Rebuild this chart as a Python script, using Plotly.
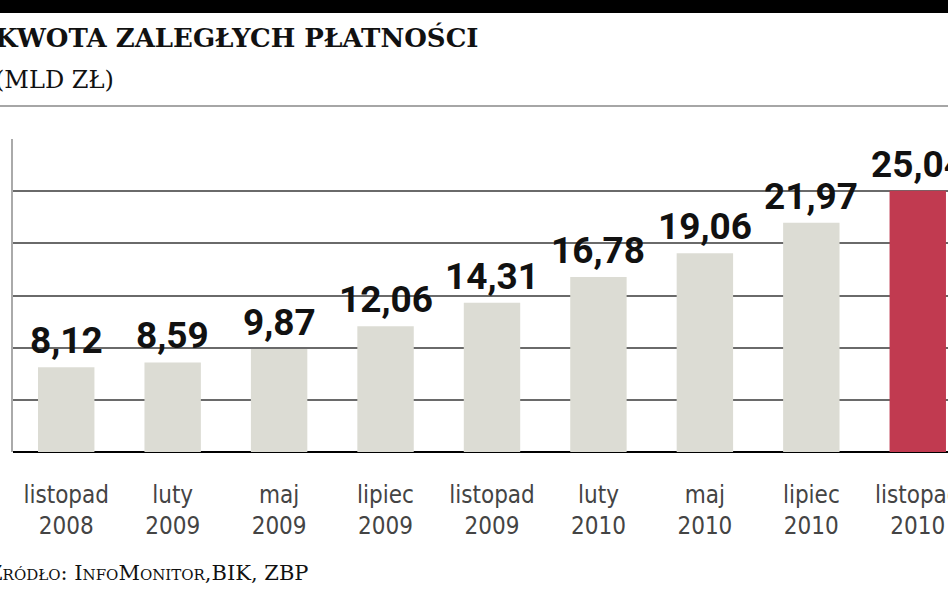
import plotly.graph_objects as go

categories = ["listopad<br>2008", "luty<br>2009", "maj<br>2009", "lipiec<br>2009",
              "listopad<br>2009", "luty<br>2010", "maj<br>2010", "lipiec<br>2010",
              "listopad<br>2010"]
values = [8.12, 8.59, 9.87, 12.06, 14.31, 16.78, 19.06, 21.97, 25.04]
labels = ["8,12", "8,59", "9,87", "12,06", "14,31", "16,78", "19,06", "21,97", "25,04"]
gray = "#dcdcd4"
red = "#c13a50"
colors = [gray] * 8 + [red]

W, H = 948, 593
ML, MR, MT, MB = 13, 0, 139, 141
ph = H - MT - MB
pw = W - ML - MR

def py(px):  # page y pixel -> paper y
    return 1 + (MT - px) / ph

def pxx(px):  # page x pixel -> paper x
    return (px - ML) / pw

fig = go.Figure()
fig.add_trace(go.Bar(x=list(range(len(values))), y=values, marker_color=colors,
                     marker_line_width=0, width=0.53, hoverinfo="skip"))

valfont = dict(family="Roboto, DejaVu Sans Condensed, sans-serif",
               size=37, color="#111", weight="bold")
for i, (v, t) in enumerate(zip(values, labels)):
    fig.add_annotation(x=i, y=v, text=t, showarrow=False, yanchor="bottom",
                       xanchor="center", yshift=3, font=valfont)

# title texts
serif = "DejaVu Serif, Liberation Serif, serif"
fig.add_annotation(xref="paper", yref="paper", x=pxx(-7), y=py(38), xanchor="left",
                   yanchor="middle", text="KWOTA ZALEGŁYCH PŁATNOŚCI", showarrow=False,
                   font=dict(family=serif, size=26, color="#111", weight="bold"))
fig.add_annotation(xref="paper", yref="paper", x=pxx(-7), y=py(80), xanchor="left",
                   yanchor="middle", text="(MLD ZŁ)", showarrow=False,
                   font=dict(family=serif, size=24, color="#111"))
fig.add_annotation(xref="paper", yref="paper", x=pxx(-14), y=py(573), xanchor="left",
                   yanchor="middle", text="Źródło: InfoMonitor,BIK, ZBP", showarrow=False,
                   font=dict(family=serif, size=21, color="#111", variant="small-caps"))

# decorative rules
fig.add_shape(type="rect", xref="paper", yref="paper", x0=pxx(-5), x1=pxx(W + 5),
              y0=py(13), y1=py(-5), fillcolor="#000", line_width=0, layer="above")
fig.add_shape(type="line", xref="paper", yref="paper", x0=pxx(0), x1=pxx(W),
              y0=py(106), y1=py(106), line=dict(color="#888", width=1.5))

fig.update_layout(
    width=W, height=H,
    margin=dict(l=ML, r=MR, t=MT, b=MB, autoexpand=False),
    paper_bgcolor="white", plot_bgcolor="white", showlegend=False,
    bargap=0.47,
)
fig.update_xaxes(range=[-0.5, 8.5 - 23 / 106.5], tickmode="array",
                 tickvals=list(range(len(values))), ticktext=categories,
                 showgrid=False, showline=False, ticks="", automargin=False,
                 tickfont=dict(family="DejaVu Sans Condensed, sans-serif",
                               size=24, color="#444"),
                 ticklabelstandoff=26, ticklabeloverflow="allow")
fig.update_yaxes(range=[0, 30], dtick=5, showticklabels=False, showgrid=True,
                 automargin=False,
                 gridcolor="#6a6a6a", gridwidth=1.5, zeroline=True, zerolinecolor="#000",
                 zerolinewidth=2, showline=True, linecolor="#aaa", linewidth=1.5)

fig.write_html("out.html")
